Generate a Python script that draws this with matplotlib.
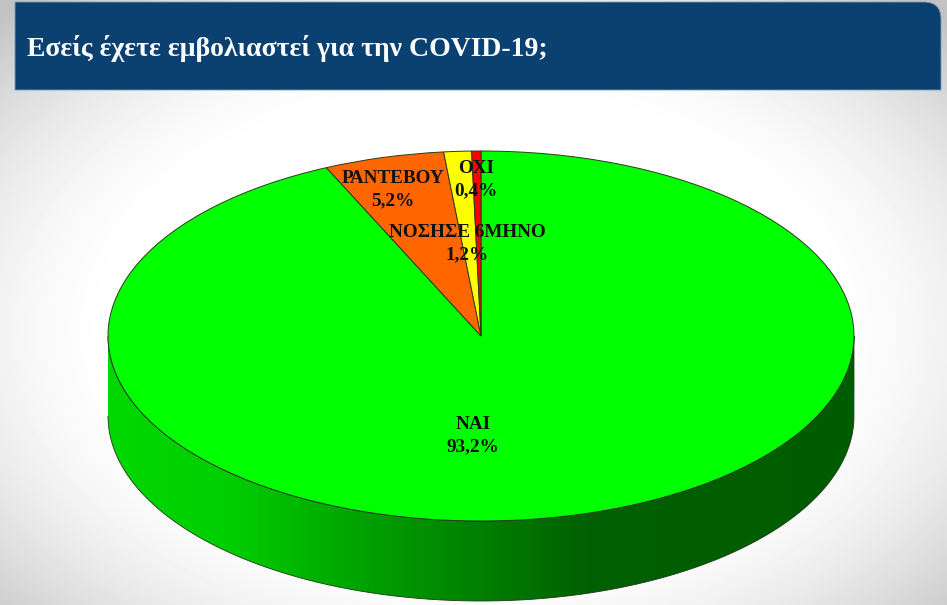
import numpy as np
import matplotlib
matplotlib.use("Agg")
import matplotlib.pyplot as plt
from matplotlib.colors import LinearSegmentedColormap
from matplotlib.patches import PathPatch
from matplotlib.path import Path

title = "Εσείς έχετε εμβολιαστεί για την COVID-19;"
categories = ["ΝΑΙ", "ΡΑΝΤΕΒΟΥ", "ΝΟΣΗΣΕ 6ΜΗΝΟ", "ΟΧΙ"]
values = [93.2, 5.2, 1.2, 0.4]
value_labels = ["93,2%", "5,2%", "1,2%", "0,4%"]
colors = ["#00FF00", "#FF6600", "#FFFF00", "#FF0000"]

W, H = 947, 605
CX, CY, RX, RY, DEPTH = 481, 336, 373, 185, 80
plt.rcParams["font.family"] = ["Liberation Serif", "DejaVu Serif"]
fig = plt.figure(figsize=(W / 100, H / 100), dpi=100)

# Background and header, in pixel coordinates
bg = fig.add_axes([0, 0, 1, 1], zorder=0)
bg.set_xlim(0, W); bg.set_ylim(H, 0); bg.axis("off")
yy, xx = np.mgrid[0:H, 0:W]
d = np.sqrt(((xx - 470) / 640) ** 2 + ((yy - 330) / 420) ** 2)
shade = np.clip((d - 0.55) / 0.5, 0, 1) ** 1.6
bg.imshow(1 - 0.24 * shade, cmap="gray", vmin=0, vmax=1,
          extent=(0, W, H, 0), aspect="auto", interpolation="bilinear")
bg.set_xlim(0, W); bg.set_ylim(H, 0)
r = 17
verts = [(15, 90), (15, 2), (941 - r, 2), (941, 2), (941, 2 + r), (941, 90), (15, 90)]
codes = [Path.MOVETO, Path.LINETO, Path.LINETO, Path.CURVE3, Path.CURVE3, Path.LINETO, Path.CLOSEPOLY]
bg.add_patch(PathPatch(Path(verts, codes), fc="#0B4170", ec="#7f9cb5", lw=0.6))
bg.text(27, 48.5, title, color="white", fontsize=20, fontweight="bold", va="center", ha="left")

# Pie: one data unit = one radius, horizontally and vertically
ax = fig.add_axes([0, 0, 1, 1], zorder=1)
ax.patch.set_alpha(0)
ax.axis("off")
wedges, _ = ax.pie(values, colors=colors, startangle=90, counterclock=False, radius=1,
                   wedgeprops=dict(edgecolor="#2b3a1c", linewidth=0.7))
for w in wedges:
    w.set_zorder(3)
ax.set_aspect("auto")
x0, x1 = (0 - CX) / RX, (W - CX) / RX
y0, y1 = (CY - H) / RY, CY / RY
ax.set_xlim(x0, x1); ax.set_ylim(y0, y1)

# Side wall of the cylinder with its horizontal shading
t = np.linspace(np.pi, 2 * np.pi, 300)
dz = DEPTH / RY
px = np.concatenate([np.cos(t), np.cos(t[::-1])])
py = np.concatenate([np.sin(t), np.sin(t[::-1]) - dz])
wall = Path(np.column_stack([px, py]), closed=False)
patch = PathPatch(wall, transform=ax.transData, fc="none", ec="#1c3a12", lw=0.6, zorder=2)
ax.add_patch(patch)
cmap = LinearSegmentedColormap.from_list(
    "wall", [(0, "#00D800"), (0.16, "#00CE00"), (0.365, "#009C00"),
             (0.50, "#007F00"), (0.645, "#006000"), (1, "#005C00")])
im = ax.imshow(np.linspace(0, 1, 512)[None, :], cmap=cmap, aspect="auto",
               extent=(-1, 1, -1 - dz, 0), zorder=1)
im.set_clip_path(patch)
ax.set_xlim(x0, x1); ax.set_ylim(y0, y1)

# Labels, placed in pixel coordinates
label_xy = [(473, 436), (393, 190), (467, 244), (476, 180)]
for cat, lab, (lx, ly) in zip(categories, value_labels, label_xy):
    ax.text(lx, ly, f"{cat}\n{lab}", transform=bg.transData, ha="center", va="center",
            fontsize=13.8, fontweight="bold", color="#111111", linespacing=1.4, zorder=5)

fig.savefig("out.png", dpi=100)
